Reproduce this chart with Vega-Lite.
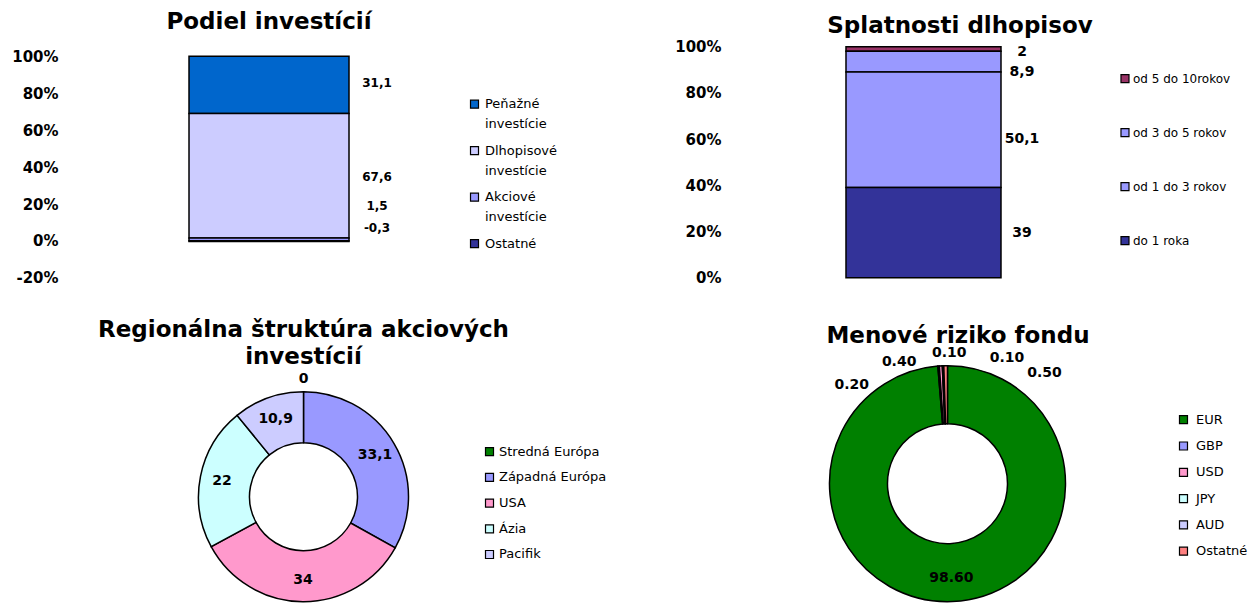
{
  "$schema": "https://vega.github.io/schema/vega-lite/v6.json",
  "padding": {"left": 11, "top": 10.7, "right": 0, "bottom": 0},
  "autosize": {"type": "pad"},
  "background": "white",
  "datasets": {
    "podiel": [
      {"category": "Peňažné investície", "value": 31.1},
      {"category": "Dlhopisové investície", "value": 67.6},
      {"category": "Akciové investície", "value": 1.5},
      {"category": "Ostatné", "value": -0.3}
    ],
    "splatnosti": [
      {"category": "od 5 do 10rokov", "value": 2},
      {"category": "od 3 do 5 rokov", "value": 8.9},
      {"category": "od 1 do 3 rokov", "value": 50.1},
      {"category": "do 1 roka", "value": 39}
    ],
    "regiony": [
      {"category": "Stredná Európa", "value": 0, "order": 1},
      {"category": "Západná Európa", "value": 33.1, "order": 2},
      {"category": "USA", "value": 34, "order": 3},
      {"category": "Ázia", "value": 22, "order": 4},
      {"category": "Pacifik", "value": 10.9, "order": 5}
    ],
    "meny": [
      {"category": "EUR", "value": 98.6, "order": 1},
      {"category": "GBP", "value": 0.2, "order": 2},
      {"category": "USD", "value": 0.4, "order": 3},
      {"category": "JPY", "value": 0.1, "order": 4},
      {"category": "AUD", "value": 0.1, "order": 5},
      {"category": "Ostatné", "value": 0.5, "order": 6}
    ]
  },
  "bounds": "flush",
  "spacing": 345,
  "resolve": {
    "scale": {"color": "independent", "x": "independent", "y": "independent", "theta": "independent"},
    "legend": {"color": "independent"},
    "axis": {"y": "independent"}
  },
  "vconcat": [
    {
      "hconcat": [
        {
          "width": 396,
          "height": 231,
          "data": {"name": "podiel"},
          "title": {"text": "Podiel investícií", "offset": 12.4},
          "encoding": {
            "x": {"datum": "Podiel investícií", "type": "nominal", "axis": null},
            "y": {
              "field": "value",
              "type": "quantitative",
              "stack": "zero",
              "scale": {"domain": [-20, 105.43], "nice": false, "zero": false},
              "axis": {"values": [-20, 0, 20, 40, 60, 80, 100], "labelExpr": "datum.value + '%'", "title": null}
            },
            "order": {"field": "category", "sort": "ascending"}
          },
          "layer": [
            {
              "mark": {"type": "bar", "width": 160, "stroke": "black", "strokeWidth": 1.5},
              "encoding": {
                "color": {
                  "field": "category",
                  "type": "nominal",
                  "scale": {
                    "domain": ["Peňažné investície", "Dlhopisové investície", "Akciové investície", "Ostatné"],
                    "range": ["#0066CC", "#CCCCFF", "#9999FF", "#333399"]
                  },
                  "legend": {
                    "orient": "none",
                    "legendX": 397,
                    "legendY": 51,
                    "title": null,
                    "symbolType": "square",
                    "labelExpr": "split(datum.label, ' ')",
                    "rowPadding": 12.5,
                    "labelFontSize": 13,
                    "labelOffset": 4
                  }
                }
              }
            },
            {
              "mark": {
                "type": "text",
                "dx": 108,
                "dy": {"expr": "datum.category == 'Peňažné investície' ? 27 : datum.category == 'Dlhopisové investície' ? 63 : datum.category == 'Akciové investície' ? -32 : -13"},
                "fontSize": 12,
                "fontWeight": "bold",
                "color": "black"
              },
              "encoding": {
                "detail": {"field": "category"},
                "text": {"field": "value", "type": "quantitative", "format": "~g"}
              }
            }
          ]
        },
        {
          "width": 379,
          "height": 231,
          "data": {"name": "splatnosti"},
          "title": {"text": "Splatnosti dlhopisov", "offset": 2, "dx": 36.5},
          "encoding": {
            "x": {"datum": "Splatnosti dlhopisov", "type": "nominal", "axis": null},
            "y": {
              "field": "value",
              "type": "quantitative",
              "stack": "zero",
              "scale": {"domain": [0, 100], "nice": false},
              "axis": {"values": [0, 20, 40, 60, 80, 100], "labelExpr": "datum.value + '%'", "title": null}
            },
            "order": {"field": "category", "sort": "ascending"}
          },
          "layer": [
            {
              "mark": {"type": "bar", "width": 155, "stroke": "black", "strokeWidth": 1.5},
              "encoding": {
                "color": {
                  "field": "category",
                  "type": "nominal",
                  "scale": {
                    "domain": ["od 5 do 10rokov", "od 3 do 5 rokov", "od 1 do 3 rokov", "do 1 roka"],
                    "range": ["#993366", "#9999FF", "#9999FF", "#333399"]
                  },
                  "legend": {
                    "orient": "none",
                    "legendX": 385,
                    "legendY": 26,
                    "title": null,
                    "symbolType": "square",
                    "rowPadding": 40,
                    "labelFontSize": 12,
                    "labelOffset": 2
                  }
                }
              }
            },
            {
              "mark": {
                "type": "text",
                "dx": 98.5,
                "dy": {"expr": "datum.category == 'do 1 roka' ? 45 : datum.category == 'od 1 do 3 rokov' ? 67 : datum.category == 'od 3 do 5 rokov' ? 21 : 5"},
                "fontSize": 14,
                "fontWeight": "bold",
                "color": "black"
              },
              "encoding": {
                "detail": {"field": "category"},
                "text": {"field": "value", "type": "quantitative", "format": "~g"}
              }
            }
          ]
        }
      ],
      "spacing": 267,
      "bounds": "flush",
      "resolve": {
        "scale": {"color": "independent", "x": "independent", "y": "independent"},
        "legend": {"color": "independent"},
        "axis": {"y": "independent"}
      }
    },
    {
      "hconcat": [
        {
          "width": 465,
          "height": 210,
          "data": {"name": "regiony"},
          "title": {"text": ["Regionálna štruktúra akciových", "investícií"], "lineHeight": 27, "offset": 3},
          "encoding": {
            "theta": {"field": "value", "type": "quantitative", "stack": true},
            "order": {"field": "order", "type": "quantitative"}
          },
          "layer": [
            {
              "mark": {"type": "arc", "innerRadius": 54, "outerRadius": 105, "stroke": "black", "strokeWidth": 1.5},
              "encoding": {
                "color": {
                  "field": "category",
                  "type": "nominal",
                  "scale": {
                    "domain": ["Stredná Európa", "Západná Európa", "USA", "Ázia", "Pacifik"],
                    "range": ["#008000", "#9999FF", "#FF99CC", "#CCFFFF", "#CCCCFF"]
                  },
                  "legend": {
                    "orient": "none",
                    "legendX": 412,
                    "legendY": 53.5,
                    "title": null,
                    "symbolType": "square",
                    "rowPadding": 11.7,
                    "labelFontSize": 13,
                    "labelOffset": 3
                  }
                }
              }
            },
            {
              "mark": {
                "type": "text",
                "radius": {"expr": "datum.value == 0 ? 118 : 83"},
                "fontSize": 14,
                "fontWeight": "bold",
                "color": "black"
              },
              "encoding": {
                "detail": {"field": "category"},
                "text": {"field": "value", "type": "quantitative", "format": "~g"}
              }
            }
          ]
        },
        {
          "width": 200,
          "height": 184,
          "data": {"name": "meny"},
          "title": {"text": "Menové riziko fondu", "offset": -2, "dx": 10.5},
          "encoding": {
            "theta": {"field": "value", "type": "quantitative", "stack": true},
            "order": {"field": "order", "type": "quantitative"}
          },
          "layer": [
            {
              "mark": {"type": "arc", "innerRadius": 60, "outerRadius": 118, "stroke": "black", "strokeWidth": 1.5},
              "encoding": {
                "color": {
                  "field": "category",
                  "type": "nominal",
                  "scale": {
                    "domain": ["EUR", "GBP", "USD", "JPY", "AUD", "Ostatné"],
                    "range": ["#008000", "#9999FF", "#FF99CC", "#CCFFFF", "#CCCCFF", "#FF8080"]
                  },
                  "legend": {
                    "orient": "none",
                    "legendX": 329.5,
                    "legendY": 21.5,
                    "title": null,
                    "symbolType": "square",
                    "rowPadding": 12.3,
                    "labelFontSize": 13,
                    "labelOffset": 6
                  }
                }
              }
            },
            {
              "mark": {
                "type": "text",
                "radius": {"expr": "datum.category == 'EUR' ? 94 : 130"},
                "dx": {"expr": "datum.category == 'GBP' ? -86 : datum.category == 'USD' ? -41 : datum.category == 'JPY' ? 7 : datum.category == 'AUD' ? 64 : datum.category == 'Ostatné' ? 99 : 0"},
                "dy": {"expr": "datum.category == 'GBP' ? 31 : datum.category == 'USD' ? 8 : datum.category == 'JPY' ? -1 : datum.category == 'AUD' ? 4 : datum.category == 'Ostatné' ? 19 : 0"},
                "text": {"expr": "replace(format(datum.value, '.2f'), ',', '.')"},
                "fontSize": 14,
                "fontWeight": "bold",
                "color": "black"
              },
              "encoding": {
                "detail": {"field": "category"}
              }
            }
          ]
        }
      ],
      "spacing": 311.5,
      "bounds": "flush",
      "resolve": {
        "scale": {"color": "independent", "theta": "independent"},
        "legend": {"color": "independent"}
      }
    }
  ],
  "config": {
    "view": {"stroke": null},
    "font": "DejaVu Sans",
    "locale": {
      "number": {"decimal": ",", "thousands": " ", "grouping": [3], "currency": ["", " €"], "minus": "-"}
    },
    "style": {"guide-label": {"lineHeight": 20}},
    "title": {"font": "DejaVu Sans", "fontSize": 23, "fontWeight": "bold", "color": "black", "anchor": "middle", "frame": "group"},
    "axis": {
      "labelFont": "DejaVu Sans",
      "labelFontSize": 15,
      "labelFontWeight": "bold",
      "labelColor": "black",
      "domain": false,
      "ticks": false,
      "tickSize": 0,
      "grid": false,
      "labelPadding": 13,
      "labelFlush": false,
      "labelOverlap": false
    },
    "legend": {
      "symbolType": "square",
      "symbolSize": 64,
      "symbolStrokeColor": "black",
      "symbolStrokeWidth": 1.2,
      "labelFont": "DejaVu Sans",
      "labelFontSize": 13,
      "labelColor": "black",
      "padding": 0,
      "labelLimit": 300
    },
    "text": {"font": "DejaVu Sans"}
  }
}
